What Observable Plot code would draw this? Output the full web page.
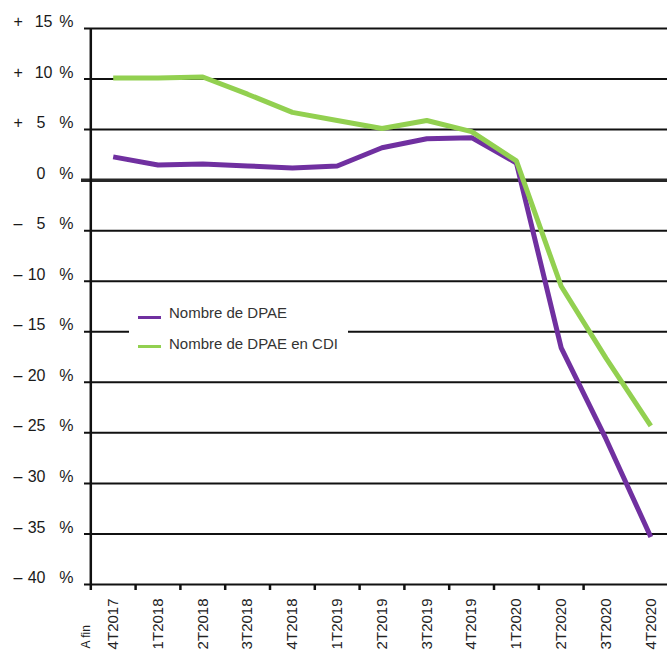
<!DOCTYPE html>
<html><head><meta charset="utf-8">
<script src="https://cdn.jsdelivr.net/npm/d3@7"></script>
<script src="https://cdn.jsdelivr.net/npm/@observablehq/plot@0.6"></script>
<style>
body{margin:0;background:#fff;font-family:"Liberation Sans",Arial,sans-serif;}
#wrap{position:relative;width:667px;height:650px;overflow:hidden;}
.leg{position:absolute;left:129px;top:290px;width:219px;height:75px;background:#fff;}
.sw{position:absolute;left:9px;width:23px;height:3px;}
.lt{position:absolute;left:40px;font-size:15px;color:#333;line-height:18px;white-space:nowrap;}
</style></head><body><div id="wrap"></div>
<script>
const quarters = ["4T2017","1T2018","2T2018","3T2018","4T2018","1T2019","2T2019","3T2019","4T2019","1T2020","2T2020","3T2020","4T2020"];
const dpae = [2.3, 1.5, 1.6, 1.4, 1.2, 1.4, 3.2, 4.1, 4.2, 1.7, -16.6, -25.6, -35.3];
const cdi  = [10.1, 10.1, 10.2, 8.5, 6.7, 5.9, 5.1, 5.9, 4.8, 1.9, -10.5, -17.6, -24.3];
const yTicks = [15, 10, 5, 0, -5, -10, -15, -20, -25, -30, -35, -40];
const seriesNames = ["Nombre de DPAE", "Nombre de DPAE en CDI"];
const colors = ["#7030a0", "#92d050"];
const firstLabelPrefix = "A fin";

const idx = quarters.map((q, i) => i);
const bounds = quarters.slice(0, 12).map((q, i) => i - 0.5);
const font = '"Liberation Sans", Arial, sans-serif';

const plot = Plot.plot({
  width: 667, height: 650,
  marginTop: 28, marginBottom: 66, marginLeft: 90, marginRight: 0,
  style: {fontFamily: font, background: "#fff"},
  x: {type: "linear", domain: [-0.5, 12.5], range: [90.3, 672.7], axis: null},
  y: {domain: [-40, 15], range: [584, 28], axis: null},
  marks: [
    Plot.ruleY(yTicks.filter(t => t !== 0), {stroke: "#111", strokeWidth: 2, insetLeft: -6}),
    Plot.ruleY([0], {stroke: "#262626", strokeWidth: 3.5, insetLeft: -9}),
    Plot.ruleX([-0.5], {y1: -40, y2: 15, stroke: "#111", strokeWidth: 2.5}),
    Plot.axisX({ticks: bounds, tickSize: 6, tickFormat: () => "", stroke: "#111", strokeWidth: 2.5}),
    Plot.text(quarters, {x: (d, i) => i, text: d => d, frameAnchor: "bottom", dy: 14, rotate: -90,
      textAnchor: "end", lineAnchor: "middle", fontSize: 15, fill: "#222"}),
    Plot.text([firstLabelPrefix], {x: 0, text: d => d, frameAnchor: "bottom", dx: -27, dy: 64, rotate: -90,
      textAnchor: "start", lineAnchor: "middle", fontSize: 12, fill: "#222"}),
    // y tick labels: sign, number, percent
    Plot.text(yTicks.filter(t => t !== 0), {y: d => d, text: d => d > 0 ? "+" : "\u2013", frameAnchor: "left",
      dx: -77, dy: -6.5, textAnchor: "start", fontSize: 16, fill: "#1a1a1a"}),
    Plot.text(yTicks.filter(t => t >= 10), {y: d => d, text: d => String(Math.abs(d)), frameAnchor: "left",
      dx: -38, dy: -6.5, textAnchor: "end", fontSize: 16, fill: "#1a1a1a"}),
    Plot.text(yTicks.filter(t => t < 10), {y: d => d, text: d => String(Math.abs(d)), frameAnchor: "left",
      dx: -45, dy: -6.5, textAnchor: "end", fontSize: 16, fill: "#1a1a1a"}),
    Plot.text(yTicks, {y: d => d, text: () => "%", frameAnchor: "left",
      dx: -17, dy: -6.5, textAnchor: "end", fontSize: 16, fill: "#1a1a1a"}),
    Plot.line(dpae, {x: (d, i) => i, y: d => d, stroke: colors[0], strokeWidth: 5, strokeLinejoin: "miter", strokeLinecap: "butt"}),
    Plot.line(cdi, {x: (d, i) => i, y: d => d, stroke: colors[1], strokeWidth: 5, strokeLinejoin: "miter", strokeLinecap: "butt"})
  ]
});

const wrap = document.getElementById("wrap");
wrap.appendChild(plot);
const leg = document.createElement("div");
leg.className = "leg";
const swTops = [26.2, 55.2], txTops = [14, 45];
seriesNames.forEach((name, k) => {
  const sw = document.createElement("div");
  sw.className = "sw"; sw.style.top = swTops[k] + "px"; sw.style.background = colors[k];
  const t = document.createElement("div");
  t.className = "lt"; t.style.top = txTops[k] + "px"; t.textContent = name;
  leg.appendChild(sw); leg.appendChild(t);
});
wrap.appendChild(leg);
</script>
</body></html>
